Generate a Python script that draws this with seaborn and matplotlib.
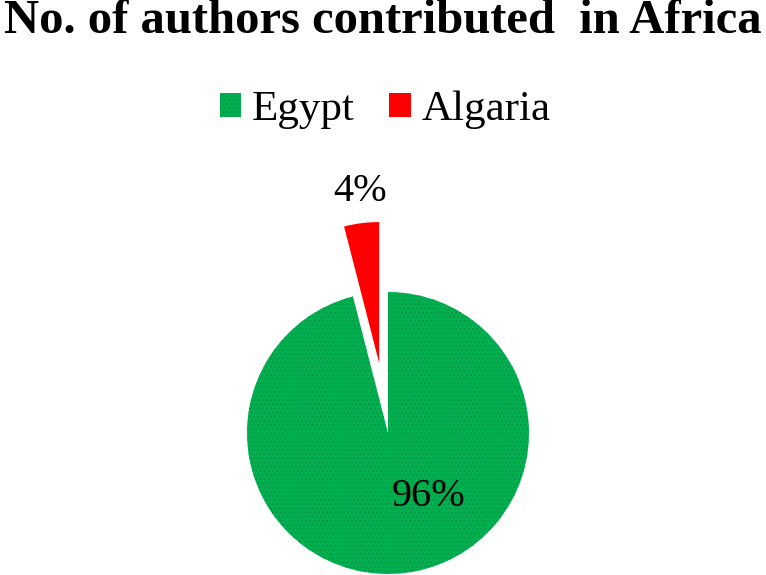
import matplotlib
matplotlib.use("Agg")
import matplotlib.pyplot as plt
import seaborn as sns

countries = ["Egypt", "Algaria"]
shares = [96, 4]
colors = ["#00B050", "#FF0000"]
explode = [0, 0.5]

sns.set_theme(style="white")
plt.rcParams["font.family"] = ["Liberation Serif", "DejaVu Serif"]
plt.rcParams["text.color"] = "black"
plt.rcParams["hatch.linewidth"] = 0.6

fig = plt.figure(figsize=(7.66, 5.75), dpi=100)
ax = fig.add_axes([0, 0, 1, 1])

wedges, texts, pcts = ax.pie(shares, colors=colors, explode=explode,
                             startangle=90, counterclock=False,
                             autopct="%d%%", pctdistance=0.6,
                             wedgeprops=dict(linewidth=0),
                             textprops=dict(fontsize=29, color="black"))
wedges[0].set_hatch("....")
wedges[0].set_edgecolor("#0b8f3f")
wedges[0].set_linewidth(0)

# label positions as placed in the original
pcts[0].set_position((0.29, -0.45))
pcts[1].set_position((-0.2, 1.71))

r = 141.0
ax.set_xlim(-388 / r, (766 - 388) / r)
ax.set_ylim(-142 / r, (575 - 142) / r)
ax.set_aspect("equal")
ax.axis("off")

fig.text(0.5, 1 - 33 / 575, "No. of authors contributed  in Africa",
         ha="center", va="baseline", fontsize=35, fontweight="bold",
         color="black")

fig.legend(wedges, countries, loc="center", bbox_to_anchor=(0.503, 1 - 110 / 575),
           ncol=2, frameon=False, fontsize=31, handlelength=0.5,
           handleheight=0.5, handletextpad=0.25, columnspacing=0.8,
           labelcolor="black")

fig.savefig("out.png", dpi=100)
